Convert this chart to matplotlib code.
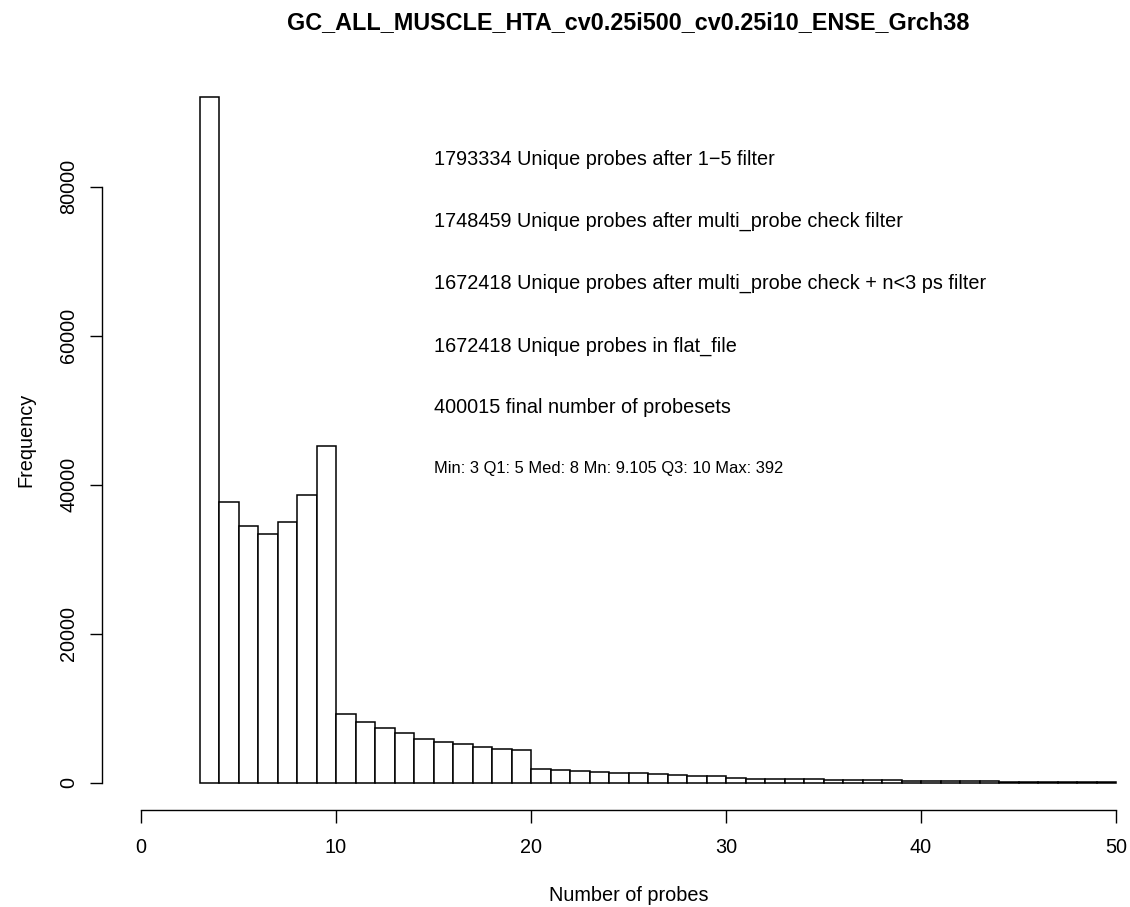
import matplotlib
matplotlib.use("Agg")
import matplotlib.pyplot as plt
import numpy as np

plt.rcParams['font.family'] = ['Liberation Sans', 'DejaVu Sans']

# Histogram bins (left edges) and counts
bin_left = list(range(3, 50))
counts = [91970, 37650, 34420, 33340, 34960, 38590, 45180,
          9250, 8100, 7300, 6720, 5850, 5450, 5180, 4750, 4480, 4380,
          1880, 1700, 1490, 1470, 1340, 1260, 1130, 1080, 950, 840,
          580, 500, 470, 450, 420, 390, 350, 320, 300, 280,
          250, 220, 190, 160, 140, 120, 100, 90, 80, 60]

title = "GC_ALL_MUSCLE_HTA_cv0.25i500_cv0.25i10_ENSE_Grch38"
notes = ["1793334 Unique probes after 1\u22125 filter",
         "1748459 Unique probes after multi_probe check filter",
         "1672418 Unique probes after multi_probe check + n<3 ps filter",
         "1672418 Unique probes in flat_file",
         "400015 final number of probesets"]
note_y = [83700, 75300, 67000, 58600, 50300]
stats_text = "Min: 3 Q1: 5 Med: 8 Mn: 9.105 Q3: 10 Max: 392"
stats_y = 42100
x_ticks = [0, 10, 20, 30, 40, 50]
y_ticks = [0, 20000, 40000, 60000, 80000]

W, H = 1130, 907
fig = plt.figure(figsize=(W / 100, H / 100), dpi=100)
# plot region in pixels: x 102..1155, y 70..810
left_px, right_px, top_px, bot_px = 102, 1155, 70, 810
ax = fig.add_axes([left_px / W, 1 - bot_px / H, (right_px - left_px) / W, (bot_px - top_px) / H])
ax.set_xlim(-2, 52)
ymax = max(counts)
ax.set_ylim(-0.04 * ymax, 1.04 * ymax)

ax.bar(bin_left, counts, width=1, align='edge', color='white', edgecolor='black', linewidth=1.1)

for sp in ['top', 'right']:
    ax.spines[sp].set_visible(False)
ax.spines['left'].set_bounds(0, 80000)
ax.spines['bottom'].set_bounds(0, 50)
ax.spines['left'].set_linewidth(1.0)
ax.spines['bottom'].set_linewidth(1.0)

ax.set_xticks(x_ticks)
ax.set_xticklabels([str(v) for v in x_ticks])
ax.set_yticks(y_ticks)
ax.set_yticklabels([str(v) for v in y_ticks], rotation=90, va='center')
ax.tick_params(axis='both', length=9, width=1.0, labelsize=14.3, direction='out')
ax.tick_params(axis='x', pad=11)
ax.tick_params(axis='y', pad=8)

ax.set_xlabel("Number of probes", fontsize=14.3, labelpad=21)
ax.set_ylabel("Frequency", fontsize=14.3, labelpad=17)

fig.text((left_px + right_px) / 2 / W, 1 - 23 / H, title, ha='center', va='center',
         fontsize=16.8, fontweight='bold')

for t, y in zip(notes, note_y):
    ax.text(15, y, t, ha='left', va='center', fontsize=14.3)
ax.text(15, stats_y, stats_text, ha='left', va='center', fontsize=11.9)

fig.savefig("out.png", dpi=100)
